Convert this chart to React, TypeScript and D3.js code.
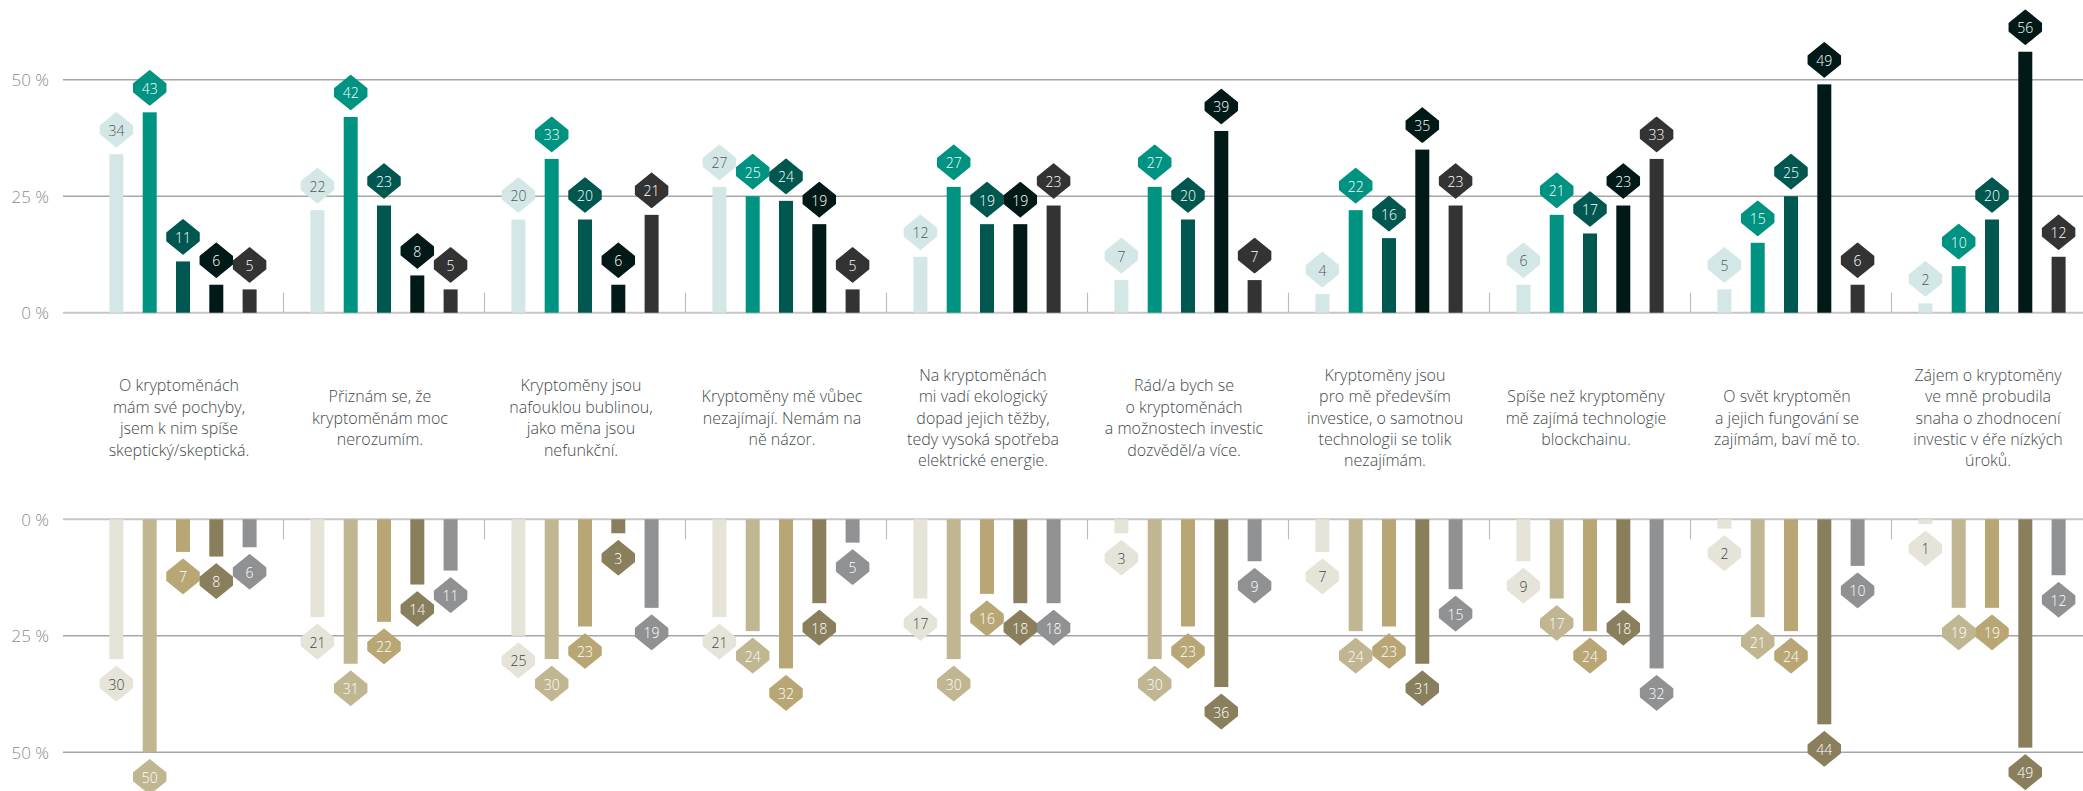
import React from "react";
import * as d3 from "d3";

const categories: string[][] = [
  ["O kryptoměnách", "mám své pochyby,", "jsem k nim spíše", "skeptický/skeptická."],
  ["Přiznám se, že", "kryptoměnám moc", "nerozumím."],
  ["Kryptoměny jsou", "nafouklou bublinou,", "jako měna jsou", "nefunkční."],
  ["Kryptoměny mě vůbec", "nezajímají. Nemám na", "ně názor."],
  ["Na kryptoměnách", "mi vadí ekologický", "dopad jejich těžby,", "tedy vysoká spotřeba", "elektrické energie."],
  ["Rád/a bych se", "o kryptoměnách", "a možnostech investic", "dozvěděl/a více."],
  ["Kryptoměny jsou", "pro mě především", "investice, o samotnou", "technologii se tolik", "nezajímám."],
  ["Spíše než kryptoměny", "mě zajímá technologie", "blockchainu."],
  ["O svět kryptoměn", "a jejich fungování se", "zajímám, baví mě to."],
  ["Zájem o kryptoměny", "ve mně probudila", "snaha o zhodnocení", "investic v éře nízkých", "úroků."],
];

// Agreement (top), one array per series
const top1 = [34, 22, 20, 27, 12, 7, 4, 6, 5, 2];
const top2 = [43, 42, 33, 25, 27, 27, 22, 21, 15, 10];
const top3 = [11, 23, 20, 24, 19, 20, 16, 17, 25, 20];
const top4 = [6, 8, 6, 19, 19, 39, 35, 23, 49, 56];
const top5 = [5, 5, 21, 5, 23, 7, 23, 33, 6, 12];

// Disagreement (bottom)
const bot1 = [30, 21, 25, 21, 17, 3, 7, 9, 2, 1];
const bot2 = [50, 31, 30, 24, 30, 30, 24, 17, 21, 19];
const bot3 = [7, 22, 23, 32, 16, 23, 23, 24, 24, 19];
const bot4 = [8, 14, 3, 18, 18, 36, 31, 18, 44, 49];
const bot5 = [6, 11, 19, 5, 18, 9, 15, 32, 10, 12];

const topSeries = [top1, top2, top3, top4, top5];
const botSeries = [bot1, bot2, bot3, bot4, bot5];

const yTicks = [0, 25, 50];
const tickLabels = ["0 %", "25 %", "50 %"];

const topColors = ["#d3e8e6", "#009381", "#00574f", "#011a18", "#333333"];
const topText = ["#555555", "#ffffff", "#ffffff", "#ffffff", "#ffffff"];
const botColors = ["#e6e3d8", "#c1b692", "#b8a774", "#8a7f5c", "#909193"];
const botText = ["#444444", "#ffffff", "#ffffff", "#ffffff", "#ffffff"];

const W = 2083;
const H = 791;
const FONT = "'Open Sans', 'Liberation Sans Narrow', sans-serif";

const hw = 16;
const hh = 17;
const side = 4;
const diamond = `M0,${-hh} L${hw},${-side} L${hw},${side} L0,${hh} L${-hw},${side} L${-hw},${-side} Z`;

export default function App() {
  const idx = d3.range(categories.length);
  const xg = d3.scaleBand<number>().domain(idx).range([82.5, 82.5 + 201 * 10]).padding(0);
  const xs = d3.scalePoint<number>().domain(d3.range(5)).range([-66.6, 66.6]);
  const yTop = d3.scaleLinear().domain([0, 50]).range([312.7, 79.7]);
  const yBot = d3.scaleLinear().domain([0, 50]).range([519.3, 752.3]);
  const barW = 14;
  const cx = (i: number) => (xg(i) as number) + xg.bandwidth() / 2;

  const panel = (
    series: number[][],
    y: d3.ScaleLinear<number, number>,
    colors: string[],
    textColors: string[],
    dir: number,
    key: string
  ) => (
    <g key={key}>
      {yTicks.map((t, k) => (
        <g key={t}>
          <line
            x1={63}
            x2={W}
            y1={y(t)}
            y2={y(t)}
            stroke={t === 0 ? "#c6c6c6" : "#a6a6a6"}
            strokeWidth={t === 0 ? 2 : 1.4}
          />
          <text
            x={49}
            y={y(t)}
            textAnchor="end"
            dominantBaseline="central"
            fontFamily={FONT}
            fontWeight={300}
            fontSize={17}
            fill="#8c8c8c"
          >
            {tickLabels[k]}
          </text>
        </g>
      ))}
      {idx.slice(1).map((i) => (
        <line
          key={"sep" + i}
          x1={xg(i) as number}
          x2={xg(i) as number}
          y1={y(0)}
          y2={y(0) + dir * 20}
          stroke="#bdbdbd"
          strokeWidth={1.2}
        />
      ))}
      {series.map((vals, s) =>
        vals.map((v, i) => {
          const x = cx(i) + (xs(s) as number);
          const y0 = y(0);
          const y1 = y(v);
          const ly = y1 + dir * 24.5;
          return (
            <g key={s + "-" + i}>
              <rect
                x={x - barW / 2}
                y={Math.min(y0, y1)}
                width={barW}
                height={Math.abs(y1 - y0)}
                fill={colors[s]}
              />
              <path
                d={diamond}
                transform={`translate(${x},${ly})`}
                fill={colors[s]}
                stroke={colors[s]}
                strokeWidth={1.5}
                strokeLinejoin="round"
              />
              <text
                x={x}
                y={ly + 0.5}
                textAnchor="middle"
                dominantBaseline="central"
                fontFamily={FONT}
                fontWeight={300}
                fontSize={14}
                fill={textColors[s]}
              >
                {v}
              </text>
            </g>
          );
        })
      )}
    </g>
  );

  const lineH = 21.4;
  const midY = 417.5;

  return (
    <svg
      width={W}
      height={H}
      style={{ position: "absolute", left: 0, top: 0, background: "#ffffff" }}
    >
      {panel(topSeries, yTop, topColors, topText, -1, "top")}
      {panel(botSeries, yBot, botColors, botText, 1, "bot")}
      {categories.map((lines, i) => (
        <text
          key={"cat" + i}
          textAnchor="middle"
          fontFamily={FONT}
          fontWeight={300}
          fontSize={16}
          fill="#3f4a49"
        >
          {lines.map((ln, k) => (
            <tspan
              key={k}
              x={cx(i) - 4}
              y={midY + (k - (lines.length - 1) / 2) * lineH}
              dominantBaseline="central"
            >
              {ln}
            </tspan>
          ))}
        </text>
      ))}
    </svg>
  );
}
